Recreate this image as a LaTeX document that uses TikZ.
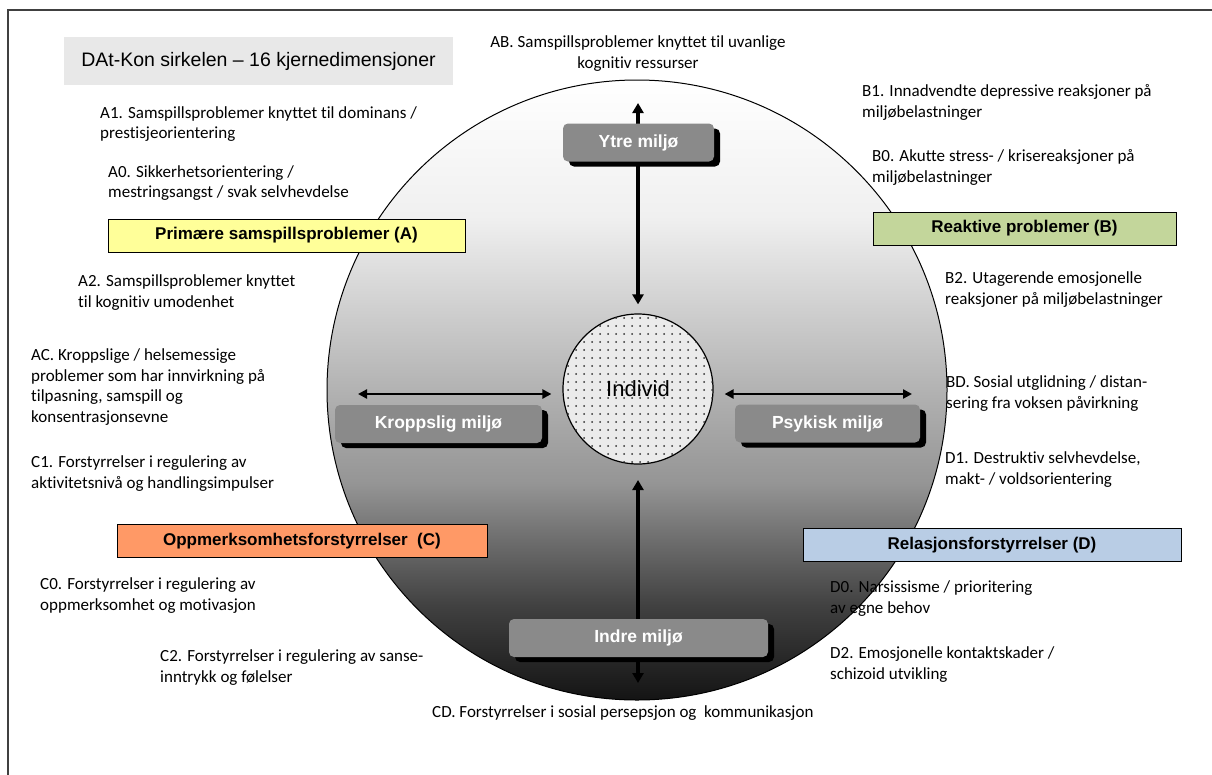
\documentclass[tikz,border=0pt]{standalone}
\usepackage{fontspec}
\newfontfamily\calib[Ligatures=NoCommon]{Carlito}
\newfontfamily\arial{Liberation Sans}
\usetikzlibrary{arrows.meta, shadows, patterns.meta}
\definecolor{framegray}{HTML}{404040}
\definecolor{titlegray}{HTML}{E8E8E8}
\definecolor{envgray}{HTML}{8A8A8A}
\definecolor{indivfill}{HTML}{EBEBEB}
\definecolor{dotgray}{HTML}{303030}
\definecolor{catA}{HTML}{FFFF99}
\definecolor{catB}{HTML}{C3D69B}
\definecolor{catC}{HTML}{FF9966}
\definecolor{catD}{HTML}{B9CDE5}
\definecolor{shdA}{HTML}{F0F0F0}
\definecolor{shdB}{HTML}{B0B0B0}
\definecolor{shdC}{HTML}{959595}
\definecolor{shdD}{HTML}{6A6A6A}
\definecolor{shdE}{HTML}{404040}
\definecolor{shdF}{HTML}{141414}
\pgfdeclareverticalshading{ringshade}{100bp}{color(0bp)=(shdF); color(25bp)=(shdF);
  color(32.5bp)=(shdE); color(37.5bp)=(shdD); color(42.5bp)=(shdC);
  color(49.5bp)=(shdB); color(64bp)=(shdA); color(75bp)=(white); color(100bp)=(white)}
\tikzset{
  note/.style   ={anchor=north west, align=left, inner sep=0pt,
                  font=\calib\fontsize{17}{20.7}\selectfont},
  catbox/.style ={draw=black, line width=0.8pt, minimum height=33pt, inner sep=0pt,
                  font=\arial\bfseries\fontsize{17}{20}\selectfont},
  envbox/.style ={rounded corners=5pt, fill=envgray, text=white, inner sep=0pt,
                  minimum height=38pt, font=\arial\bfseries\fontsize{17.5}{20}\selectfont,
                  drop shadow={shadow xshift=6pt, shadow yshift=-5pt, fill=black, opacity=1}},
  vlink/.style  ={{Triangle[length=10pt,width=11pt]}-{Triangle[length=10pt,width=11pt]},
                  line width=3.5pt},
  hlink/.style  ={{Triangle[length=9pt,width=9pt]}-{Triangle[length=9pt,width=9pt]},
                  line width=2.5pt}
}
\begin{document}
\begin{tikzpicture}[x=1pt, y=-1pt]
  \useasboundingbox (0,0) rectangle (1212,774);
  \clip (0,0) rectangle (1212,774);
  \draw[framegray, line width=1.5pt] (8,10) rectangle (1240,800);

  % title
  \node[fill=titlegray, minimum width=389pt, minimum height=48pt, inner sep=0pt,
        font=\arial\fontsize{19.5}{22}\selectfont] (title) at (258.5,61)
        {DAt-Kon sirkelen – 16 kjernedimensjoner};

  % circles
  \node[circle, draw, line width=1pt, minimum size=620pt, inner sep=0pt,
        shading=ringshade] (ring) at (637,390) {};
  \node[circle, draw, line width=1.2pt, minimum size=150pt, inner sep=0pt, fill=indivfill,
        postaction={pattern={Dots[distance=8pt,radius=1pt]}, pattern color=dotgray},
        font=\arial\fontsize{22}{24}\selectfont] (indiv) at (638,389) {Individ};

  % arrows
  \coordinate (topend) at (638,103);
  \coordinate (botstart) at (638,480);
  \coordinate (botend) at (638,683);
  \coordinate (leftend) at (358,394);
  \coordinate (rightend) at (912,394);
  \draw[vlink] ([yshift=9pt]indiv.north) -- (topend);
  \draw[vlink] (botstart) -- (botend);
  \draw[hlink] (leftend) -- ([xshift=-11pt]indiv.west |- leftend);
  \draw[hlink] ([xshift=11pt]indiv.east |- rightend) -- (rightend);

  % environment boxes
  \node[envbox, minimum width=151pt] (ytre)  at (638.5,142.5) {Ytre miljø};
  \node[envbox, minimum width=207pt] (kropp) at (438.5,424)   {Kroppslig miljø};
  \node[envbox, minimum width=185pt] (psyk)  at (827.5,423.5) {Psykisk miljø};
  \node[envbox, minimum width=259pt] (indre) at (638.5,638)   {Indre miljø};

  % category boxes
  \node[catbox, fill=catA, minimum width=357pt] (boxA) at (286.5,235.5) {Primære samspillsproblemer (A)};
  \node[catbox, fill=catB, minimum width=303pt] (boxB) at (1024.5,228.5) {Reaktive problemer (B)};
  \node[catbox, fill=catC, minimum width=370pt] (boxC) at (302,541) {Oppmerksomhetsforstyrrelser\ \ (C)};
  \node[catbox, fill=catD, minimum width=378pt] (boxD) at (992,545) {Relasjonsforstyrrelser (D)};

  % dimension texts
  \node[note, anchor=north, align=center] (tAB) at (638,35.5)
       {AB. Samspillsproblemer knyttet til uvanlige\\kognitiv ressurser};
  \node[note] (tA1) at (100,106) {A1. Samspillsproblemer knyttet til dominans /\\prestisjeorientering};
  \node[note] (tA0) at (108,165) {A0. Sikkerhetsorientering /\\mestringsangst / svak selvhevdelse};
  \node[note] (tB1) at (862,84.5) {B1. Innadvendte depressive reaksjoner på\\miljøbelastninger};
  \node[note] (tB0) at (872,149.5) {B0. Akutte stress- / krisereaksjoner på\\miljøbelastninger};
  \node[note] (tA2) at (78,274.5) {A2. Samspillsproblemer knyttet\\til kognitiv umodenhet};
  \node[note] (tB2) at (945,271.5) {B2. Utagerende emosjonelle\\reaksjoner på miljøbelastninger};
  \node[note] (tAC) at (31,348.5) {AC. Kroppslige / helsemessige\\problemer som har innvirkning på\\tilpasning, samspill og\\konsentrasjonsevne};
  \node[note] (tBD) at (946,375.5) {BD. Sosial utglidning / distan-\\sering fra voksen påvirkning};
  \node[note] (tC1) at (31,455.5) {C1. Forstyrrelser i regulering av\\aktivitetsnivå og handlingsimpulser};
  \node[note] (tD1) at (945,451.5) {D1. Destruktiv selvhevdelse,\\makt- / voldsorientering};
  \node[note] (tC0) at (40,577.5) {C0. Forstyrrelser i regulering av\\oppmerksomhet og motivasjon};
  \node[note] (tD0) at (830,580.5) {D0. Narsissisme / prioritering\\av egne behov};
  \node[note] (tC2) at (160,649.5) {C2. Forstyrrelser i regulering av sanse-\\inntrykk og følelser};
  \node[note] (tD2) at (830,646.5) {D2. Emosjonelle kontaktskader /\\schizoid utvikling};
  \node[note] (tCD) at (432,705) {CD. Forstyrrelser i sosial persepsjon og\ \ kommunikasjon};
\end{tikzpicture}
\end{document}
